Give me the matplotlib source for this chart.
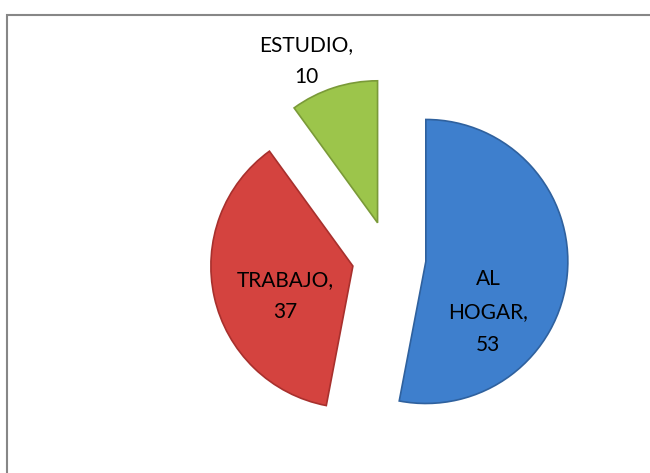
import matplotlib
matplotlib.use('Agg')
import matplotlib.pyplot as plt
from matplotlib.patches import Rectangle

# data
categories = ['AL HOGAR', 'TRABAJO', 'ESTUDIO']
values = [53, 37, 10]
colors = ['#3E7FCD', '#D4433F', '#9CC54B']
edges = ['#2F619E', '#A8302D', '#7A9A38']

W, H = 650, 473
fig = plt.figure(figsize=(W / 100, H / 100), dpi=100)
ax = fig.add_axes([0, 0, 1, 1])

# explode is in data units here (pixels)
wedges, _ = ax.pie(values, colors=colors, startangle=90, counterclock=False,
                   radius=142, center=(389, H - 258), explode=[37] * 3,
                   wedgeprops=dict(linewidth=1.2), frame=True)
for w, ec in zip(wedges, edges):
    w.set_edgecolor(ec)
ax.set_xlim(0, W)
ax.set_ylim(0, H)
ax.set_aspect('equal')
ax.axis('off')

# data labels
label_pos = [(488, H - 312), (285, H - 296), (306, H - 61)]
for name, v, (x, y) in zip(categories, values, label_pos):
    txt = name.replace('AL ', 'AL\n') + ',\n' + str(v)
    ax.text(x, y, txt, ha='center', va='center', fontsize=15,
            family='Lato', linespacing=1.8, color='black')

# chart border
fig.patches.append(Rectangle((7 / W, -0.1), 1.0, (H - 15) / H + 0.1,
                             transform=fig.transFigure, fill=False,
                             edgecolor='#878787', linewidth=1.5))

fig.savefig('out.png', dpi=100)
